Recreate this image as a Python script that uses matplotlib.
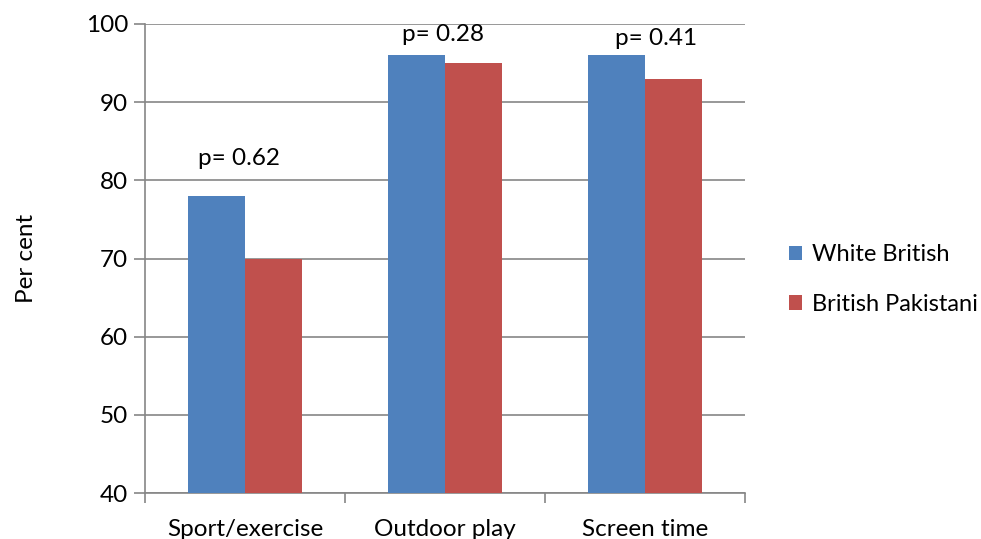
import matplotlib
matplotlib.use("Agg")
import matplotlib.pyplot as plt
import numpy as np

categories = ["Sport/exercise", "Outdoor play", "Screen time"]
white_british = [78, 96, 96]
british_pakistani = [70, 95, 93]
p_labels = ["p= 0.62", "p= 0.28", "p= 0.41"]
p_label_y = [82.8, 98.7, 98.1]
p_label_dx = [-0.03, -0.01, 0.055]
y_ticks = [40, 50, 60, 70, 80, 90, 100]

plt.rcParams["font.family"] = ["Lato", "DejaVu Sans"]
blue = "#4F81BD"
red = "#C0504D"
grid = "#868686"
fs = 17.5

fig = plt.figure(figsize=(9.81, 5.39), dpi=100)
ax = fig.add_axes([145 / 981, 46 / 539, 600 / 981, 469 / 539])

x = np.arange(len(categories))
w = 0.285
ax.bar(x - w / 2, white_british, w, color=blue, label="White British", zorder=3)
ax.bar(x + w / 2, british_pakistani, w, color=red, label="British Pakistani", zorder=3)

for xi, lab, ly, dx in zip(x, p_labels, p_label_y, p_label_dx):
    ax.text(xi + dx, ly, lab, ha="center", va="center", fontsize=fs, color="#000000")

ax.set_xlim(-0.5, len(categories) - 0.5)
ax.set_ylim(40, 100)
ax.set_yticks(y_ticks)
ax.set_xticks(x)
ax.set_xticklabels(categories)
ax.set_xticks(np.arange(len(categories) + 1) - 0.5, minor=True)
ax.tick_params(axis="x", which="major", length=0, pad=19, labelsize=fs)
ax.tick_params(axis="x", which="minor", length=7, color=grid, width=1.2)
ax.tick_params(axis="y", length=8, color=grid, width=1.2, labelsize=fs, pad=4)

ax.grid(axis="y", color=grid, linewidth=1.2, zorder=0)
for s in ["top", "right"]:
    ax.spines[s].set_visible(False)
for s in ["left", "bottom"]:
    ax.spines[s].set_color(grid)
    ax.spines[s].set_linewidth(1.2)

ax.set_ylabel("Per cent", fontsize=fs, labelpad=35)

leg = ax.legend(loc="center left", bbox_to_anchor=(1.058, 0.455), frameon=False,
                fontsize=17, handlelength=0.55, handleheight=0.55,
                handletextpad=0.4, labelspacing=1.2, borderaxespad=0.0)

fig.savefig("out.png", dpi=100)
